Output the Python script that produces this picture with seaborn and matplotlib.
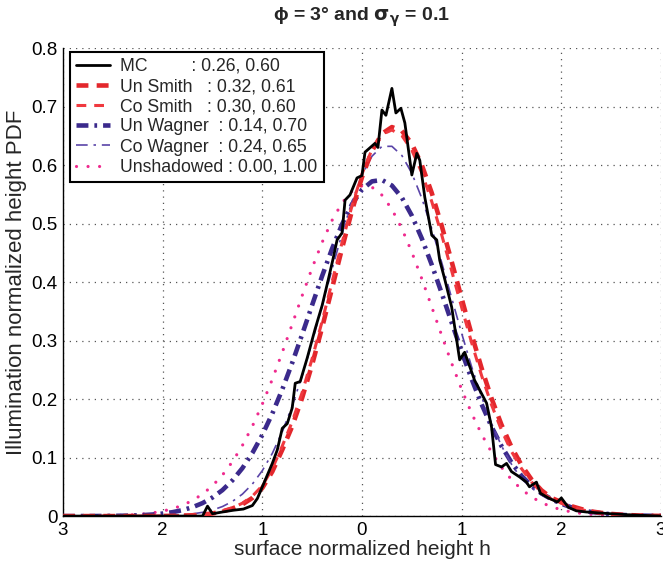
import numpy as np
import matplotlib
matplotlib.use("Agg")
import matplotlib.pyplot as plt
import seaborn as sns

# height grid for the model curves
h_grid = np.linspace(-3, 3, 61)

unshadowed = [0.0000, 0.0001, 0.0002, 0.0003, 0.0005, 0.0008, 0.0014, 0.0022, 0.0035, 0.0055,
              0.0084, 0.0126, 0.0185, 0.0267, 0.0376, 0.0518, 0.0701, 0.0929, 0.1207, 0.1535,
              0.1914, 0.2337, 0.2797, 0.3280, 0.3769, 0.4242, 0.4678, 0.5056, 0.5353, 0.5553,
              0.5645, 0.5622, 0.5486, 0.5245, 0.4913, 0.4510, 0.4056, 0.3574, 0.3086, 0.2610,
              0.2163, 0.1757, 0.1398, 0.1090, 0.0832, 0.0623, 0.0457, 0.0328, 0.0231, 0.0159,
              0.0108, 0.0071, 0.0046, 0.0029, 0.0018, 0.0011, 0.0007, 0.0004, 0.0002, 0.0001, 0.0001]

un_wagner = [0.0000, 0.0000, 0.0001, 0.0001, 0.0002, 0.0004, 0.0006, 0.0010, 0.0017, 0.0027,
             0.0043, 0.0067, 0.0102, 0.0152, 0.0222, 0.0318, 0.0444, 0.0610, 0.0819, 0.1077,
             0.1388, 0.1751, 0.2164, 0.2620, 0.3107, 0.3608, 0.4104, 0.4571, 0.4988, 0.5331,
             0.5580, 0.5721, 0.5745, 0.5650, 0.5443, 0.5135, 0.4745, 0.4295, 0.3808, 0.3306,
             0.2812, 0.2342, 0.1911, 0.1527, 0.1195, 0.0916, 0.0688, 0.0520, 0.0390, 0.0290,
             0.0210, 0.0150, 0.0100, 0.0070, 0.0050, 0.0030, 0.0020, 0.0013, 0.0008, 0.0005, 0.0003]

co_wagner = [0.0000, 0.0000, 0.0000, 0.0000, 0.0000, 0.0000, 0.0001, 0.0001, 0.0002, 0.0004,
             0.0007, 0.0013, 0.0022, 0.0038, 0.0064, 0.0103, 0.0163, 0.0251, 0.0375, 0.0547,
             0.0777, 0.1071, 0.1441, 0.1885, 0.2401, 0.2977, 0.3593, 0.4222, 0.4829, 0.5378,
             0.5829, 0.6151, 0.6319, 0.6320, 0.6163, 0.5860, 0.5433, 0.4913, 0.4332, 0.3724,
             0.3122, 0.2552, 0.2035, 0.1582, 0.1199, 0.0886, 0.0638, 0.0480, 0.0360, 0.0270,
             0.0200, 0.0140, 0.0095, 0.0065, 0.0045, 0.0030, 0.0020, 0.0013, 0.0008, 0.0005, 0.0003]

un_smith = [0.0000, 0.0000, 0.0000, 0.0000, 0.0000, 0.0000, 0.0000, 0.0000, 0.0001, 0.0001,
            0.0002, 0.0004, 0.0008, 0.0014, 0.0025, 0.0045, 0.0080, 0.0130, 0.0200, 0.0310,
            0.0480, 0.0760, 0.1133, 0.1535, 0.2023, 0.2591, 0.3223, 0.3896, 0.4577, 0.5223,
            0.5792, 0.6242, 0.6535, 0.6649, 0.6585, 0.6363, 0.6001, 0.5523, 0.4960, 0.4348,
            0.3719, 0.3104, 0.2528, 0.2010, 0.1559, 0.1180, 0.0872, 0.0628, 0.0442, 0.0310,
            0.0240, 0.0170, 0.0120, 0.0080, 0.0055, 0.0037, 0.0024, 0.0015, 0.0009, 0.0005, 0.0003]

co_smith = [0.0000, 0.0000, 0.0000, 0.0000, 0.0000, 0.0000, 0.0000, 0.0000, 0.0001, 0.0002,
            0.0003, 0.0005, 0.0009, 0.0016, 0.0028, 0.0050, 0.0088, 0.0140, 0.0220, 0.0340,
            0.0520, 0.0810, 0.1197, 0.1614, 0.2115, 0.2692, 0.3330, 0.4003, 0.4674, 0.5304,
            0.5849, 0.6266, 0.6523, 0.6599, 0.6503, 0.6254, 0.5869, 0.5375, 0.4804, 0.4190,
            0.3567, 0.2963, 0.2401, 0.1900, 0.1467, 0.1104, 0.0812, 0.0583, 0.0408, 0.0290,
            0.0220, 0.0155, 0.0110, 0.0075, 0.0050, 0.0034, 0.0022, 0.0014, 0.0008, 0.0005, 0.0003]

# Monte Carlo histogram (noisy)
mc_h = [-3.0, -2.0, -1.6, -1.55, -1.5, -1.4, -1.29, -1.19, -1.1, -1.05, -0.97, -0.9, -0.85,
        -0.8, -0.75, -0.7, -0.67, -0.62, -0.55, -0.47, -0.4, -0.34, -0.29, -0.25, -0.2, -0.17,
        -0.12, -0.05, 0.0, 0.03, 0.13, 0.16, 0.2, 0.24, 0.3, 0.34, 0.39, 0.43, 0.5, 0.55, 0.58,
        0.63, 0.7, 0.75, 0.78, 0.83, 0.9, 0.98, 1.03, 1.13, 1.25, 1.3, 1.34, 1.4, 1.45, 1.5,
        1.58, 1.65, 1.68, 1.75, 1.79, 1.87, 1.96, 2.0, 2.07, 2.15, 2.25, 2.5, 2.7, 3.0]
mc_pdf = [0.0, 0.0, 0.0, 0.017, 0.004, 0.007, 0.010, 0.012, 0.018, 0.030, 0.062, 0.090, 0.113,
          0.150, 0.158, 0.185, 0.227, 0.230, 0.270, 0.320, 0.360, 0.403, 0.440, 0.472, 0.484, 0.540,
          0.549, 0.578, 0.582, 0.622, 0.637, 0.630, 0.694, 0.685, 0.731, 0.689, 0.697, 0.672, 0.583,
          0.620, 0.608, 0.545, 0.480, 0.472, 0.437, 0.405, 0.357, 0.267, 0.280, 0.232, 0.193, 0.152,
          0.088, 0.084, 0.090, 0.076, 0.067, 0.058, 0.050, 0.058, 0.039, 0.031, 0.024, 0.031, 0.015,
          0.009, 0.007, 0.004, 0.002, 0.0]

labels = ["MC         : 0.26, 0.60",
          "Un Smith   : 0.32, 0.61",
          "Co Smith   : 0.30, 0.60",
          "Un Wagner  : 0.14, 0.70",
          "Co Wagner  : 0.24, 0.65",
          "Unshadowed : 0.00, 1.00"]

sns.set_style("white")
plt.rcParams['font.family'] = ['Liberation Sans', 'DejaVu Sans']

fig = plt.figure(figsize=(6.63, 5.69), dpi=100)
ax = fig.add_axes([0.095, 0.093, 0.902, 0.8226])

sns.lineplot(x=mc_h, y=mc_pdf, ax=ax, color="black", linewidth=2.0, label=labels[0], zorder=6)
sns.lineplot(x=h_grid, y=un_smith, ax=ax, color="#e3272c", linewidth=3.3,
             linestyle=(0, (2.6, 1.8)), label=labels[1], zorder=4)
sns.lineplot(x=h_grid, y=co_smith, ax=ax, color="#f0393f", linewidth=2.2,
             linestyle=(0, (3.2, 2.6)), label=labels[2], zorder=5)
sns.lineplot(x=h_grid, y=un_wagner, ax=ax, color="#3b2a8c", linewidth=3.3,
             linestyle=(0, (2.6, 1.3, 0.6, 1.3)), label=labels[3], zorder=3)
sns.lineplot(x=h_grid, y=co_wagner, ax=ax, color="#5a44a8", linewidth=1.2,
             linestyle=(0, (7, 3.5, 1.5, 3.5)), label=labels[4], zorder=3)
sns.lineplot(x=h_grid, y=unshadowed, ax=ax, color="#ef2a8e", linewidth=2.3,
             linestyle=(0, (0.01, 3.6)), dash_capstyle="round", label=labels[5], zorder=2)

ax.set_xlim(-3, 3)
ax.set_ylim(0, 0.8)
ax.set_xticks([-3, -2, -1, 0, 1, 2, 3])
ax.set_xticklabels(["3", "2", "1", "0", "1", "2", "3"])
ax.set_yticks(np.arange(0, 0.81, 0.1))
ax.set_yticklabels(["0", "0.1", "0.2", "0.3", "0.4", "0.5", "0.6", "0.7", "0.8"])
ax.tick_params(direction="in", length=5, width=1, labelsize=13.5, colors="black", pad=4)
ax.grid(True, linestyle=(0, (1, 4)), color="#555555", linewidth=0.9)
for side in ["top", "right"]:
    ax.spines[side].set_visible(False)
for side in ["left", "bottom"]:
    ax.spines[side].set_color("black")
    ax.spines[side].set_linewidth(1.0)

ax.set_xlabel("surface normalized height h", fontsize=15, labelpad=1)
ax.set_ylabel("Illumination normalized height PDF", fontsize=16, labelpad=3)
ax.set_title(r"ϕ = 3° and $\mathbf{\sigma_{\gamma}}$ = 0.1", fontsize=14, fontweight="bold", pad=20)

leg = ax.legend(loc="upper left", bbox_to_anchor=(0.012, 0.992), borderaxespad=0,
                fontsize=12.7, handlelength=1.9, labelspacing=0.18, handletextpad=0.6,
                borderpad=0.35, fancybox=False, framealpha=1, edgecolor="black")
leg.get_frame().set_linewidth(1.5)

fig.savefig("out.png", dpi=100)
